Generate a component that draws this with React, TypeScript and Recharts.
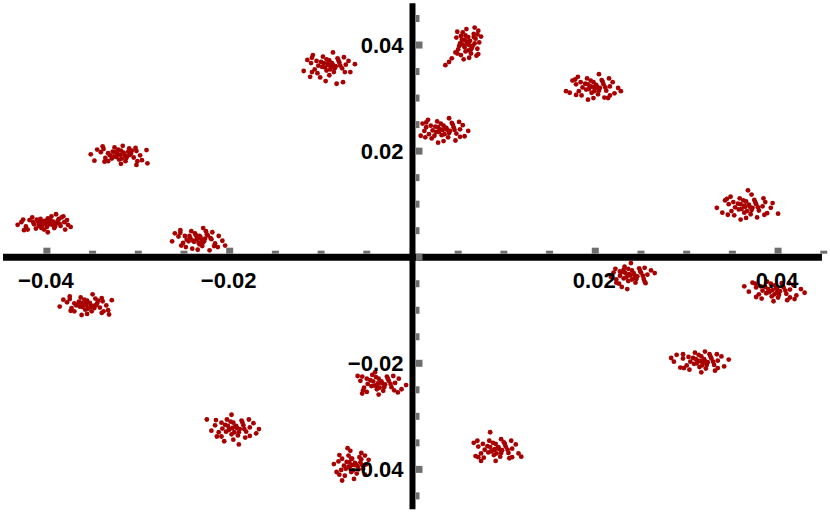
import { ScatterChart, Scatter, XAxis, YAxis, ReferenceLine, ReferenceDot } from 'recharts';

// point clusters (x, y)
const cluster01 = [[-0.0402,0.0063],[-0.0398,0.0066],[-0.0405,0.006],[-0.0394,0.0061],[-0.041,0.0067],[-0.0389,0.0064],[-0.04,0.0057],[-0.0396,0.007],[-0.0414,0.0062],[-0.0385,0.0059],[-0.0407,0.0072],[-0.0392,0.0055],[-0.0419,0.007],[-0.0381,0.0066],[-0.0403,0.0052],[-0.0387,0.0072],[-0.0423,0.0058],[-0.0377,0.0061],[-0.0412,0.0054],[-0.0395,0.0077],[-0.0428,0.0066],[-0.038,0.0052],[-0.0416,0.0075],[-0.0374,0.0057],[-0.0432,0.0061],[-0.039,0.0081],[-0.0399,0.0047],[-0.0384,0.0075],[-0.0425,0.0051],[-0.0408,0.0064],[-0.0393,0.0067],[-0.0401,0.0069],
  [-0.0421,0.0052],[-0.0382,0.0077],[-0.0397,0.0062],[-0.0404,0.0068],[-0.0391,0.0058],[-0.0409,0.0059],[-0.0388,0.0069],[-0.0415,0.0066],[-0.0378,0.007],[-0.0426,0.0071],[-0.0399,0.0073],[-0.0406,0.0055],[-0.0386,0.0063],[-0.0411,0.0071]];
const cluster02 = [[-0.032,0.0193],[-0.0316,0.0197],[-0.0324,0.0189],[-0.0312,0.0191],[-0.0328,0.0199],[-0.0318,0.0186],[-0.0308,0.0196],[-0.0331,0.0192],[-0.0322,0.0203],[-0.0305,0.0188],[-0.0336,0.0187],[-0.0314,0.0181],[-0.0326,0.0207],[-0.0302,0.02],[-0.0341,0.0198],[-0.031,0.0205],[-0.0333,0.0181],[-0.0298,0.0192],[-0.0345,0.0203],[-0.0319,0.0176],[-0.0296,0.0183],[-0.0339,0.0209],[-0.0348,0.0182],[-0.0291,0.0202],[-0.0317,0.021],[-0.0352,0.0194],[-0.0302,0.0174],[-0.0329,0.0186],[-0.0311,0.0199],[-0.0323,0.0195],
  [-0.0338,0.0204],[-0.0301,0.0181],[-0.0303,0.0206],[-0.0337,0.018],[-0.0315,0.0192],[-0.0325,0.0198],[-0.0313,0.0187],[-0.0327,0.019],[-0.0307,0.0201],[-0.0333,0.0196],[-0.0319,0.0201],[-0.0321,0.0184],[-0.0309,0.0193],[-0.029,0.0177]];
const cluster03 = [[-0.0236,0.0034],[-0.0232,0.0038],[-0.024,0.0031],[-0.0228,0.003],[-0.0244,0.004],[-0.0234,0.0027],[-0.0224,0.0041],[-0.0247,0.0033],[-0.0238,0.0045],[-0.022,0.0034],[-0.0251,0.0027],[-0.023,0.0021],[-0.0242,0.0049],[-0.0216,0.0026],[-0.0256,0.0039],[-0.0226,0.0049],[-0.0248,0.0019],[-0.0212,0.004],[-0.026,0.0045],[-0.0235,0.0014],[-0.0213,0.0019],[-0.0254,0.0051],[-0.0263,0.003],[-0.0208,0.0031],[-0.0229,0.0055],[-0.0241,0.0016],[-0.0222,0.0013],[-0.0233,0.004],[-0.0239,0.0029],[-0.0227,0.0035],
  [-0.0254,0.0046],[-0.0217,0.0021],[-0.0219,0.0047],[-0.0253,0.0022],[-0.0231,0.0033],[-0.0243,0.0036],[-0.0229,0.0028],[-0.0245,0.003],[-0.0225,0.0043],[-0.0249,0.004],[-0.0237,0.0041],[-0.0233,0.0024],[-0.0221,0.0036],[-0.0205,0.0022]];
const cluster04 = [[-0.0357,-0.009],[-0.0353,-0.0086],[-0.0361,-0.0094],[-0.0349,-0.0092],[-0.0365,-0.0084],[-0.0355,-0.0097],[-0.0345,-0.0087],[-0.0368,-0.0091],[-0.0359,-0.008],[-0.0342,-0.0095],[-0.0373,-0.0096],[-0.0351,-0.0102],[-0.0363,-0.0076],[-0.0339,-0.0083],[-0.0378,-0.0085],[-0.0347,-0.0078],[-0.037,-0.0102],[-0.0335,-0.0091],[-0.0382,-0.008],[-0.0356,-0.0107],[-0.0333,-0.01],[-0.0375,-0.0074],[-0.0386,-0.0093],[-0.0329,-0.0081],[-0.035,-0.007],[-0.0362,-0.0109],[-0.034,-0.0105],[-0.0358,-0.0088],[-0.0352,-0.0094],[-0.0366,-0.0089],
  [-0.0375,-0.0079],[-0.0338,-0.0102],[-0.034,-0.0077],[-0.0374,-0.0101],[-0.0352,-0.0091],[-0.0362,-0.0086],[-0.0348,-0.0096],[-0.0364,-0.0093],[-0.0344,-0.0082],[-0.037,-0.0087],[-0.0356,-0.0082],[-0.0358,-0.0099],[-0.0346,-0.009],[-0.0332,-0.0108]];
const cluster05 = [[-0.0092,0.0362],[-0.0088,0.0366],[-0.0096,0.0358],[-0.0084,0.036],[-0.01,0.0368],[-0.009,0.0354],[-0.008,0.0367],[-0.0103,0.0361],[-0.0094,0.0373],[-0.0077,0.0356],[-0.0107,0.0354],[-0.0086,0.0349],[-0.0098,0.0378],[-0.0073,0.0363],[-0.0111,0.0366],[-0.0082,0.0375],[-0.0104,0.0347],[-0.007,0.037],[-0.0115,0.0372],[-0.0091,0.0343],[-0.0068,0.0349],[-0.0109,0.0381],[-0.0119,0.0351],[-0.0063,0.0364],[-0.0087,0.0386],[-0.0095,0.0332],[-0.0083,0.0327],[-0.0112,0.034],[-0.0076,0.033],[-0.0093,0.0365],[-0.0089,0.0359],
  [-0.011,0.0376],[-0.0074,0.0349],[-0.0075,0.0377],[-0.011,0.0349],[-0.0087,0.0362],[-0.0097,0.0366],[-0.0085,0.0356],[-0.0099,0.0359],[-0.0081,0.0371],[-0.0105,0.037],[-0.0091,0.0371],[-0.0094,0.0352],[-0.0079,0.0361],[-0.0101,0.0339]];
const cluster06 = [[0.0033,0.024],[0.0037,0.0244],[0.0029,0.0236],[0.0041,0.0238],[0.0025,0.0246],[0.0035,0.0232],[0.0045,0.0245],[0.0022,0.0239],[0.0031,0.0252],[0.0048,0.0233],[0.0018,0.0232],[0.0039,0.0226],[0.0027,0.0256],[0.0052,0.0241],[0.0015,0.0245],[0.0043,0.0253],[0.0021,0.0224],[0.0055,0.0249],[0.0011,0.0252],[0.0034,0.0219],[0.0057,0.0228],[0.0017,0.0259],[0.0009,0.0229],[0.0061,0.0238],[0.004,0.0262],[0.0028,0.0216],[0.0047,0.022],[0.0013,0.0238],[0.0036,0.0243],[0.003,0.0241],
  [0.0015,0.0254],[0.0052,0.0227],[0.0051,0.0255],[0.0014,0.0226],[0.0038,0.024],[0.0028,0.0245],[0.004,0.0234],[0.0026,0.0236],[0.0044,0.025],[0.002,0.0248],[0.0034,0.0248],[0.0032,0.023],[0.0046,0.024],[0.0024,0.0229]];
const cluster07 = [[0.006,0.0402],[0.0063,0.0408],[0.0057,0.0396],[0.0066,0.0399],[0.0054,0.041],[0.0061,0.039],[0.0069,0.0412],[0.0052,0.0403],[0.0058,0.0418],[0.0071,0.0393],[0.005,0.0392],[0.0064,0.0384],[0.0055,0.0424],[0.0073,0.0405],[0.0048,0.0414],[0.0067,0.0421],[0.0053,0.0381],[0.007,0.038],[0.0059,0.043],[0.0062,0.0376],[0.0075,0.0416],[0.0047,0.0386],[0.0056,0.0373],[0.0068,0.0433],[0.0043,0.0375],[0.0036,0.0362],[0.0065,0.0395],[0.0059,0.0407],[0.0051,0.0398],[0.0072,0.0427],
  [0.0049,0.0425],[0.0072,0.0383],[0.0071,0.042],[0.0049,0.0384],[0.0062,0.04],[0.0057,0.041],[0.0064,0.0392],[0.0055,0.0401],[0.0067,0.0415],[0.0053,0.0417],[0.0061,0.0415],[0.0058,0.0388],[0.0068,0.0403],[0.004,0.0368]];
const cluster08 = [[0.0197,0.0321],[0.0201,0.0325],[0.0193,0.0317],[0.0205,0.0319],[0.0189,0.0327],[0.0199,0.0313],[0.0209,0.0326],[0.0186,0.032],[0.0195,0.0333],[0.0212,0.0314],[0.0182,0.0313],[0.0203,0.0307],[0.0191,0.0337],[0.0216,0.0322],[0.0179,0.0326],[0.0207,0.0334],[0.0185,0.0305],[0.0219,0.033],[0.0175,0.0333],[0.0198,0.03],[0.0221,0.0309],[0.0181,0.034],[0.0172,0.031],[0.0225,0.0319],[0.0204,0.0345],[0.0192,0.0297],[0.021,0.0301],[0.0168,0.0313],[0.0214,0.03],[0.02,0.0319],[0.0194,0.0323],
  [0.0178,0.0335],[0.0216,0.0305],[0.0215,0.0337],[0.0179,0.0306],[0.0202,0.0321],[0.0192,0.0326],[0.0204,0.0314],[0.019,0.0316],[0.0208,0.0331],[0.0184,0.033],[0.0198,0.033],[0.0196,0.031],[0.0211,0.032],[0.0228,0.0313]];
const cluster09 = [[0.0364,0.0095],[0.0368,0.0099],[0.036,0.0091],[0.0372,0.0093],[0.0356,0.0101],[0.0366,0.0087],[0.0376,0.01],[0.0353,0.0094],[0.0362,0.0107],[0.0379,0.0088],[0.0349,0.0087],[0.037,0.0081],[0.0358,0.0111],[0.0383,0.0096],[0.0346,0.01],[0.0374,0.0108],[0.0352,0.0079],[0.0386,0.0104],[0.0342,0.0107],[0.0365,0.0074],[0.0388,0.0083],[0.0348,0.0114],[0.0339,0.0084],[0.0392,0.0093],[0.0371,0.0118],[0.0359,0.0071],[0.0377,0.0075],[0.0333,0.0093],[0.04,0.0082],[0.0367,0.0126],[0.0363,0.0097],
  [0.0344,0.011],[0.0385,0.008],[0.0384,0.0111],[0.0345,0.008],[0.0369,0.0095],[0.0359,0.01],[0.0371,0.0089],[0.0357,0.009],[0.0375,0.0104],[0.0351,0.0104],[0.0365,0.0105],[0.0363,0.0084],[0.0378,0.0094],[0.0394,0.0102]];
const cluster10 = [[0.0238,-0.0034],[0.0242,-0.003],[0.0234,-0.0038],[0.0246,-0.0036],[0.023,-0.0028],[0.024,-0.0042],[0.025,-0.0029],[0.0227,-0.0035],[0.0236,-0.0022],[0.0253,-0.0041],[0.0223,-0.0042],[0.0244,-0.0048],[0.0232,-0.0018],[0.0257,-0.0033],[0.022,-0.0029],[0.0248,-0.0021],[0.0226,-0.005],[0.0261,-0.0025],[0.0229,-0.0056],[0.0239,-0.0011],[0.0254,-0.0046],[0.0217,-0.0037],[0.0235,-0.006],[0.0243,-0.0039],[0.0237,-0.0032],[0.0231,-0.0024],
  [0.0222,-0.0022],[0.0255,-0.0049],[0.0254,-0.002],[0.0223,-0.0048],[0.0243,-0.0034],[0.0233,-0.003],[0.0245,-0.0041],[0.0231,-0.004],[0.0249,-0.0026],[0.0227,-0.0027],[0.024,-0.0025],[0.0236,-0.0045],[0.0252,-0.0035],[0.0265,-0.003]];
const cluster11 = [[0.0394,-0.0062],[0.0398,-0.0058],[0.039,-0.0066],[0.0402,-0.0064],[0.0386,-0.0056],[0.0396,-0.007],[0.0406,-0.0057],[0.0383,-0.0063],[0.0392,-0.005],[0.0409,-0.0069],[0.0379,-0.007],[0.04,-0.0076],[0.0388,-0.0046],[0.0413,-0.0061],[0.0376,-0.0057],[0.0404,-0.0049],[0.0382,-0.0078],[0.0417,-0.0053],[0.0372,-0.0048],[0.0395,-0.0083],[0.042,-0.0072],[0.0368,-0.0065],[0.041,-0.0081],[0.0425,-0.006],[0.0363,-0.0055],[0.0399,-0.006],[0.0391,-0.0064],[0.0429,-0.0067],
  [0.0375,-0.005],[0.0413,-0.0076],[0.0412,-0.0049],[0.0376,-0.0075],[0.0399,-0.0066],[0.0389,-0.006],[0.0401,-0.0071],[0.0387,-0.0068],[0.0405,-0.0054],[0.0381,-0.0055],[0.0396,-0.0053],[0.0393,-0.0074],[0.0408,-0.0063],[0.0418,-0.0079]];
const cluster12 = [[0.0315,-0.0196],[0.0319,-0.0192],[0.0311,-0.02],[0.0323,-0.0198],[0.0307,-0.019],[0.0317,-0.0204],[0.0327,-0.0191],[0.0304,-0.0197],[0.0313,-0.0184],[0.033,-0.0203],[0.03,-0.0204],[0.0321,-0.021],[0.0309,-0.018],[0.0334,-0.0195],[0.0296,-0.0191],[0.0325,-0.0183],[0.0303,-0.0212],[0.0338,-0.0187],[0.0293,-0.0208],[0.0316,-0.0217],[0.0341,-0.0206],[0.0289,-0.0184],[0.0331,-0.0214],[0.0346,-0.0193],[0.0286,-0.0197],[0.032,-0.0178],[0.0312,-0.0195],[0.0318,-0.0199],
  [0.0296,-0.0183],[0.0334,-0.0209],[0.0333,-0.0183],[0.0297,-0.0209],[0.032,-0.0196],[0.031,-0.0192],[0.0322,-0.0203],[0.0308,-0.0201],[0.0326,-0.0187],[0.0302,-0.0188],[0.0316,-0.0187],[0.0314,-0.0207],[0.0329,-0.0197],[0.0283,-0.019]];
const cluster13 = [[-0.0038,-0.0238],[-0.0034,-0.0234],[-0.0042,-0.0242],[-0.003,-0.024],[-0.0046,-0.0232],[-0.0036,-0.0246],[-0.0026,-0.0233],[-0.0049,-0.0239],[-0.004,-0.0226],[-0.0023,-0.0245],[-0.0053,-0.0246],[-0.0032,-0.0252],[-0.0044,-0.0222],[-0.0019,-0.0237],[-0.0057,-0.0233],[-0.0028,-0.0225],[-0.005,-0.0254],[-0.0015,-0.0229],[-0.006,-0.0224],[-0.0037,-0.0259],[-0.0012,-0.0249],[-0.0055,-0.0257],[-0.0041,-0.0217],[-0.0007,-0.0241],[-0.0035,-0.0236],[-0.0039,-0.0241],
  [-0.0055,-0.0225],[-0.002,-0.0251],[-0.0021,-0.0224],[-0.0054,-0.0251],[-0.0033,-0.0238],[-0.0043,-0.0234],[-0.0031,-0.0245],[-0.0045,-0.0243],[-0.0027,-0.0229],[-0.005,-0.0229],[-0.0037,-0.0229],[-0.0039,-0.0249],[-0.0024,-0.0239],[-0.0016,-0.0255]];
const cluster14 = [[-0.0197,-0.0322],[-0.0193,-0.0318],[-0.0201,-0.0326],[-0.0189,-0.0324],[-0.0205,-0.0316],[-0.0195,-0.033],[-0.0185,-0.0317],[-0.0208,-0.0323],[-0.0199,-0.031],[-0.0182,-0.0329],[-0.0212,-0.033],[-0.0191,-0.0336],[-0.0203,-0.0306],[-0.0178,-0.0321],[-0.0216,-0.0317],[-0.0187,-0.0308],[-0.0209,-0.0338],[-0.0174,-0.0313],[-0.022,-0.0327],[-0.0196,-0.0344],[-0.0171,-0.0332],[-0.0225,-0.0306],[-0.0183,-0.034],[-0.0198,-0.0297],[-0.019,-0.0353],[-0.0168,-0.0324],[-0.0194,-0.032],[-0.02,-0.0324],
  [-0.0215,-0.0307],[-0.0178,-0.0337],[-0.0179,-0.0306],[-0.0214,-0.0338],[-0.0192,-0.0322],[-0.0202,-0.0318],[-0.019,-0.033],[-0.0204,-0.0329],[-0.0186,-0.0312],[-0.0209,-0.0312],[-0.0196,-0.0312],[-0.0198,-0.0334],[-0.0184,-0.0324],[-0.0206,-0.0347]];
const cluster15 = [[-0.0066,-0.0392],[-0.0063,-0.0388],[-0.0069,-0.0396],[-0.006,-0.0394],[-0.0072,-0.0386],[-0.0065,-0.0402],[-0.0057,-0.0387],[-0.0075,-0.0393],[-0.0067,-0.038],[-0.0054,-0.0399],[-0.0078,-0.0401],[-0.0061,-0.0408],[-0.007,-0.0374],[-0.0051,-0.0391],[-0.0081,-0.0385],[-0.0058,-0.0377],[-0.0074,-0.0412],[-0.0048,-0.0382],[-0.0083,-0.0405],[-0.0064,-0.0418],[-0.0068,-0.0365],[-0.0056,-0.0369],[-0.0077,-0.0421],[-0.0062,-0.039],[-0.007,-0.0395],[-0.0086,-0.039],
  [-0.008,-0.0373],[-0.0052,-0.041],[-0.0052,-0.0374],[-0.008,-0.041],[-0.0063,-0.0392],[-0.0069,-0.0387],[-0.0059,-0.04],[-0.0073,-0.0399],[-0.0056,-0.0381],[-0.0077,-0.038],[-0.0066,-0.038],[-0.0067,-0.0405],[-0.0055,-0.0392],[-0.0071,-0.036]];
const cluster16 = [[0.009,-0.0362],[0.0094,-0.0358],[0.0086,-0.0366],[0.0098,-0.0364],[0.0082,-0.0356],[0.0092,-0.037],[0.0102,-0.0357],[0.0079,-0.0363],[0.0088,-0.035],[0.0105,-0.0369],[0.0075,-0.037],[0.0096,-0.0376],[0.0084,-0.0346],[0.0109,-0.0361],[0.0072,-0.0357],[0.01,-0.0349],[0.0078,-0.0378],[0.0113,-0.0353],[0.0069,-0.0375],[0.0091,-0.0384],[0.0116,-0.037],[0.0067,-0.035],[0.0106,-0.0379],[0.0085,-0.033],[0.0097,-0.0343],[0.0119,-0.0376],[0.0089,-0.0364],[0.0093,-0.036],
  [0.0071,-0.0346],[0.0109,-0.0377],[0.0108,-0.0346],[0.0072,-0.0377],[0.0095,-0.0362],[0.0085,-0.0358],[0.0097,-0.0369],[0.0083,-0.0368],[0.0101,-0.0352],[0.0077,-0.0352],[0.0091,-0.0352],[0.0089,-0.0373],[0.0104,-0.0363],[0.0075,-0.0384]];

const clusters = [cluster01, cluster02, cluster03, cluster04, cluster05, cluster06, cluster07, cluster08,
  cluster09, cluster10, cluster11, cluster12, cluster13, cluster14, cluster15, cluster16];

// ticks and labels
const xTicks = [-0.04, -0.035, -0.03, -0.025, -0.02, -0.015, -0.01, -0.005, 0.005, 0.01, 0.015, 0.02, 0.025, 0.03, 0.035, 0.04, 0.045];
const yTicks = [-0.045, -0.04, -0.035, -0.03, -0.025, -0.02, -0.015, -0.01, -0.005, 0, 0.005, 0.01, 0.015, 0.02, 0.025, 0.03, 0.035, 0.04, 0.045];
const majorTicks = [-0.04, -0.02, 0, 0.02, 0.04];
const xLabels = [
  { v: -0.04, text: '\u22120.04' },
  { v: -0.02, text: '\u22120.02' },
  { v: 0.02, text: '0.02' },
  { v: 0.04, text: '0.04' },
];
const yLabels = [
  { v: 0.04, text: '0.04' },
  { v: 0.02, text: '0.02' },
  { v: -0.02, text: '\u22120.02' },
  { v: -0.04, text: '\u22120.04' },
];

const X_DOMAIN = [-0.04513, 0.04568];
const Y_DOMAIN = [-0.04898, 0.04849];
const X_AXIS_EXTENT = [-0.0448, 0.0448];
const Y_AXIS_EXTENT = [-0.0475, 0.0479];

const DOT = '#a80000';
const TICK = '#6e6e6e';
const FONT = '"Liberation Sans", Arial, Helvetica, sans-serif';

const isMajor = (v: number) => majorTicks.some((m) => Math.abs(m - v) < 1e-9);

export default function App() {
  const series = clusters.map((pts) => pts.map(([x, y]) => ({ x, y })));

  return (
    <div style={{ position: 'absolute', left: 0, top: 0, width: 830, height: 517, background: '#fff' }}>
      <ScatterChart width={830} height={517} margin={{ top: 0, right: 0, bottom: 0, left: 0 }}>
        <XAxis type="number" dataKey="x" domain={X_DOMAIN} hide allowDataOverflow />
        <YAxis type="number" dataKey="y" domain={Y_DOMAIN} hide allowDataOverflow />
        {series.map((data, i) => (
          <Scatter
            key={i}
            data={data}
            fill={DOT}
            isAnimationActive={false}
            shape={(p: any) => <circle cx={p.cx} cy={p.cy} r={2.4} fill={DOT} />}
          />
        ))}
        <ReferenceLine
          segment={[{ x: X_AXIS_EXTENT[0], y: 0 }, { x: X_AXIS_EXTENT[1], y: 0 }]}
          stroke="#000"
          strokeWidth={7}
        />
        <ReferenceLine
          segment={[{ x: 0, y: Y_AXIS_EXTENT[0] }, { x: 0, y: Y_AXIS_EXTENT[1] }]}
          stroke="#000"
          strokeWidth={6}
        />
        {xTicks.map((v) => (
          <ReferenceDot
            key={'xt' + v}
            x={v}
            y={0}
            r={1}
            shape={(p: any) => {
              const h = isMajor(v) ? 6 : 3;
              return <rect x={p.cx - 3.5} y={p.cy - 3.5 - h} width={7} height={h} fill={TICK} />;
            }}
          />
        ))}
        {yTicks.map((v) => (
          <ReferenceDot
            key={'yt' + v}
            x={0}
            y={v}
            r={1}
            shape={(p: any) => {
              const w = isMajor(v) ? 6.5 : 3.5;
              return <rect x={p.cx + 3.5} y={p.cy - 3.5} width={w} height={7} fill={TICK} />;
            }}
          />
        ))}
        {xLabels.map((l) => (
          <ReferenceDot
            key={'xl' + l.v}
            x={l.v}
            y={0}
            r={1}
            shape={(p: any) => (
              <text x={p.cx - 1} y={p.cy + 31} textAnchor="middle" fontFamily={FONT} fontWeight="bold" fontSize={22} fill="#000">
                {l.text}
              </text>
            )}
          />
        ))}
        {yLabels.map((l) => (
          <ReferenceDot
            key={'yl' + l.v}
            x={0}
            y={l.v}
            r={1}
            shape={(p: any) => (
              <text x={p.cx - 9} y={p.cy + 8} textAnchor="end" fontFamily={FONT} fontWeight="bold" fontSize={22} fill="#000">
                {l.text}
              </text>
            )}
          />
        ))}
      </ScatterChart>
    </div>
  );
}
